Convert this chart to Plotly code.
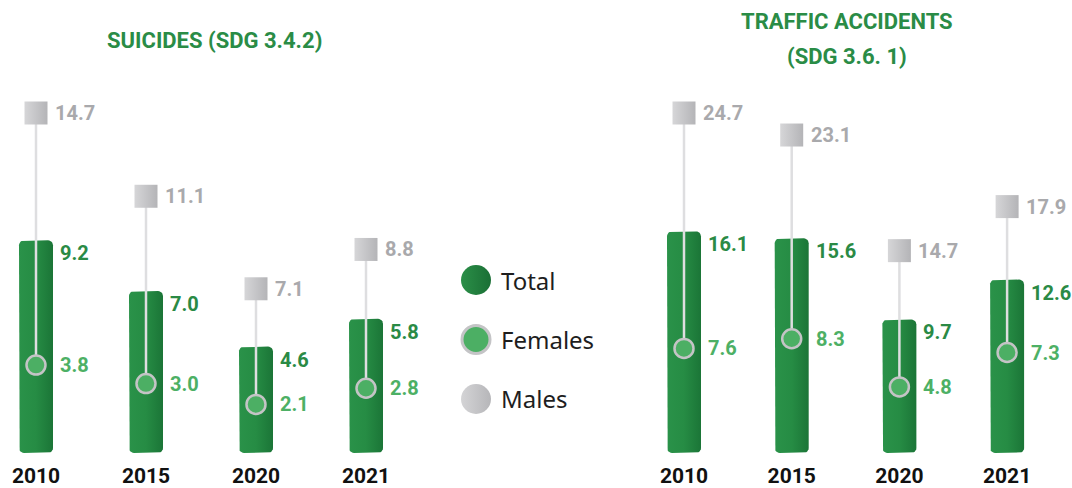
import math
import plotly.graph_objects as go

years = ["2010", "2015", "2020", "2021"]
sui_total = [9.2, 7.0, 4.6, 5.8]
sui_female = [3.8, 3.0, 2.1, 2.8]
sui_male = [14.7, 11.1, 7.1, 8.8]
tra_total = [16.1, 15.6, 9.7, 12.6]
tra_female = [7.6, 8.3, 4.8, 7.3]
tra_male = [24.7, 23.1, 14.7, 17.9]
legend_labels = ["Total", "Females", "Males"]
title_left = "SUICIDES (SDG 3.4.2)"
title_right_1 = "TRAFFIC ACCIDENTS"
title_right_2 = "(SDG 3.6. 1)"

W, H = 1072, 488
COND = "Roboto, Liberation Sans Narrow, sans-serif"
REG = "Noto Sans, Open Sans, sans-serif"
C_TOTAL_LBL = "#2a8a45"
C_FEM = "#4caf64"
C_FEM_LBL = "#4db065"
C_MALE = "#d6d6d8"
C_MALE2 = "#b4b4b7"
C_MALE_LBL = "#a9a9ac"
C_LINE = "#dedee0"
BAR_GRAD = [[0, "#2a9249"], [0.5, "#268c44"], [1, "#1b7537"]]

base_px = 35
ydom = [base_px / H, 1]
s_left = 340 / 14.7     # px per unit, left panel
s_right = 340 / 24.7    # px per unit, right panel
px_x_left = 110.0       # px per category step
px_x_right = 107.7
BAR_W_PX = 34
RAD_PX = 5

fig = go.Figure()
annotations = []


def rounded_bar(cx, top, sx, sy):
    hw = BAR_W_PX / 2 / sx
    rx = RAD_PX / sx
    ry = RAD_PX / sy
    pts = []
    corners = [
        (cx + hw - rx, top - ry, 0, 90),      # top right
        (cx - hw + rx, top - ry, 90, 180),    # top left
        (cx - hw + rx, ry, 180, 270),         # bottom left
        (cx + hw - rx, ry, 270, 360),         # bottom right
    ]
    for ccx, ccy, a0, a1 in corners:
        for k in range(7):
            a = math.radians(a0 + (a1 - a0) * k / 6)
            pts.append((ccx + rx * math.cos(a), ccy + ry * math.sin(a)))
    pts.append(pts[0])
    return [p[0] for p in pts], [p[1] for p in pts]


panels = [
    (sui_total, sui_female, sui_male, "x", "y", px_x_left, s_left),
    (tra_total, tra_female, tra_male, "x2", "y2", px_x_right, s_right),
]
idx = list(range(len(years)))
for tot, fem, mal, xa, ya, sx, sy in panels:
    for i, t in zip(idx, tot):
        bx, by = rounded_bar(i, t, sx, sy)
        fig.add_trace(go.Scatter(x=bx, y=by, mode="lines", fill="toself", line=dict(width=0),
                                 fillgradient=dict(type="horizontal", colorscale=BAR_GRAD),
                                 xaxis=xa, yaxis=ya, showlegend=False, hoverinfo="skip"))
    lx, ly = [], []
    for i, f, m in zip(idx, fem, mal):
        lx += [i, i, None]
        ly += [f, m, None]
    fig.add_trace(go.Scatter(x=lx, y=ly, mode="lines", line=dict(color=C_LINE, width=2.5),
                             xaxis=xa, yaxis=ya, showlegend=False, hoverinfo="skip"))
    fig.add_trace(go.Scatter(x=idx, y=fem, mode="markers",
                             marker=dict(symbol="circle", size=19, color=C_FEM, line=dict(color="#c4c4c6", width=2.5)),
                             xaxis=xa, yaxis=ya, showlegend=False, hoverinfo="skip"))
    fig.add_trace(go.Scatter(x=idx, y=mal, mode="markers",
                             marker=dict(symbol="square", size=23, color=C_MALE,
                                         gradient=dict(type="horizontal", color=C_MALE2), line=dict(width=0)),
                             xaxis=xa, yaxis=ya, showlegend=False, hoverinfo="skip"))
    for i, t, f, m in zip(idx, tot, fem, mal):
        annotations.append(dict(x=i, y=t, xref=xa, yref=ya, text=f"{t:.1f}", showarrow=False,
                                xanchor="left", yanchor="middle", xshift=22, yshift=-13,
                                font=dict(family=COND, size=20, color=C_TOTAL_LBL, weight="bold")))
        annotations.append(dict(x=i, y=f, xref=xa, yref=ya, text=f"{f:.1f}", showarrow=False,
                                xanchor="left", yanchor="middle", xshift=22,
                                font=dict(family=COND, size=20, color=C_FEM_LBL, weight="bold")))
        annotations.append(dict(x=i, y=m, xref=xa, yref=ya, text=f"{m:.1f}", showarrow=False,
                                xanchor="left", yanchor="middle", xshift=17,
                                font=dict(family=COND, size=20, color=C_MALE_LBL, weight="bold")))

# legend panel
fig.add_trace(go.Scatter(x=[0], y=[legend_labels[0]], mode="markers",
                         marker=dict(size=30, color="#2b8f48", gradient=dict(type="horizontal", color="#1a6f35"),
                                     line=dict(width=0)),
                         xaxis="x3", yaxis="y3", showlegend=False, hoverinfo="skip"))
fig.add_trace(go.Scatter(x=[0], y=[legend_labels[1]], mode="markers",
                         marker=dict(size=28, color=C_FEM, line=dict(color="#c4c4c6", width=3)),
                         xaxis="x3", yaxis="y3", showlegend=False, hoverinfo="skip"))
fig.add_trace(go.Scatter(x=[0], y=[legend_labels[2]], mode="markers",
                         marker=dict(size=30, color="#d4d4d6", gradient=dict(type="horizontal", color="#b6b6b9"),
                                     line=dict(width=0)),
                         xaxis="x3", yaxis="y3", showlegend=False, hoverinfo="skip"))
for lab in legend_labels:
    annotations.append(dict(x=0, y=lab, xref="x3", yref="y3", text=lab, showarrow=False,
                            xanchor="left", yanchor="middle", xshift=23,
                            font=dict(family=REG, size=24, color="#1e1e1e")))

title_font = dict(family=COND, size=22, color="#2a8c46", weight="bold")
annotations.append(dict(x=214 / W, y=1 - 41 / H, xref="paper", yref="paper", text=title_left, showarrow=False,
                        xanchor="center", yanchor="middle", font=title_font))
annotations.append(dict(x=847 / W, y=1 - 22 / H, xref="paper", yref="paper", text=title_right_1, showarrow=False,
                        xanchor="center", yanchor="middle", font=title_font))
annotations.append(dict(x=847 / W, y=1 - 57 / H, xref="paper", yref="paper", text=title_right_2, showarrow=False,
                        xanchor="center", yanchor="middle", font=title_font))

xfont = dict(family=COND, size=21, color="#111111", weight="bold")
left_r0 = -36 / px_x_left
right_r0 = -44 / px_x_right

fig.update_layout(
    width=W, height=H, margin=dict(l=0, r=0, t=0, b=0),
    paper_bgcolor="white", plot_bgcolor="rgba(0,0,0,0)",
    annotations=annotations,
    xaxis=dict(domain=[0, 420 / W], range=[left_r0, left_r0 + 420 / px_x_left], tickvals=idx, ticktext=years,
               showgrid=False, zeroline=False, showline=False, ticks="", tickfont=xfont,
               ticklabelstandoff=8, fixedrange=True),
    yaxis=dict(domain=ydom, range=[0, (H - base_px) / s_left], visible=False, fixedrange=True),
    xaxis2=dict(domain=[640 / W, 1], range=[right_r0, right_r0 + 432 / px_x_right], tickvals=idx, ticktext=years,
                showgrid=False, zeroline=False, showline=False, ticks="", tickfont=xfont,
                ticklabelstandoff=8, anchor="y2", fixedrange=True),
    yaxis2=dict(domain=ydom, range=[0, (H - base_px) / s_right], visible=False, anchor="x2", fixedrange=True),
    xaxis3=dict(domain=[440 / W, 620 / W], range=[-36, 144], visible=False, anchor="y3", fixedrange=True),
    yaxis3=dict(domain=[0, 1], type="category", categoryarray=legend_labels[::-1], categoryorder="array",
                range=[-1.496, 6.706], visible=False, anchor="x3", fixedrange=True),
)

fig.write_html("out.html")
